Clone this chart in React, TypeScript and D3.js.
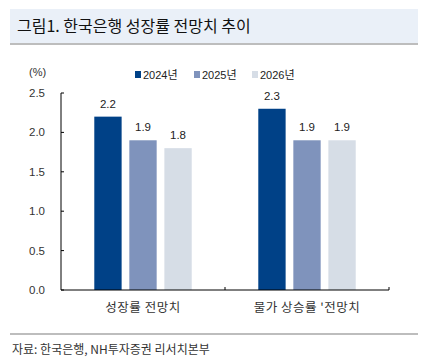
import React from 'react';
import * as d3 from 'd3';

// data
const categories = ['성장률 전망치', "물가 상승률 '전망치"];
const seriesNames = ['2024년', '2025년', '2026년'];
const values2024 = [2.2, 2.3];
const values2025 = [1.9, 1.9];
const values2026 = [1.8, 1.9];
const yTicks = [0, 0.5, 1.0, 1.5, 2.0, 2.5];
const colors = ['#004187', '#7F93BC', '#D6DDE6'];

const FONT = "'Liberation Sans', Arial, 'Noto Sans CJK KR', sans-serif";
const KFONT = "'Noto Sans CJK KR', 'Liberation Sans', sans-serif";

export default function App() {
  const width = 425, height = 363;
  const left = 61, right = 389, top = 93, bottom = 290;

  const series = [values2024, values2025, values2026];

  const y = d3.scaleLinear().domain([0, 2.5]).range([bottom, top]);
  const x0 = d3.scaleBand().domain(categories).range([left, right]);
  const x1 = d3.scaleBand().domain(seriesNames)
    .range([0, x0.bandwidth()]).paddingInner(0.22).paddingOuter(0.95);

  return (
    <svg width={width} height={height}
      style={{ position: 'absolute', left: 0, top: 0, background: '#fff' }}>
      {/* title band */}
      <rect x={10} y={9} width={408} height={34} fill="#EAF0F8" />
      <rect x={10} y={43} width={408} height={2} fill="#BDBDBD" />
      <text x={17} y={32} fontFamily={KFONT} fontSize={16} fill="#111">그림1. 한국은행 성장률 전망치 추이</text>

      {/* unit */}
      <text x={29} y={76} fontFamily={FONT} fontSize={11} fill="#333">(%)</text>

      {/* legend */}
      {seriesNames.map((s, i) => {
        const lx = [135, 194, 252][i];
        return (
          <g key={s}>
            <rect x={lx} y={71} width={6} height={7} fill={colors[i]} />
            <text x={lx + 8} y={79} fontFamily={FONT} fontSize={11} fill="#222">{s}</text>
          </g>
        );
      })}

      {/* y axis */}
      <line x1={left} x2={left} y1={top} y2={bottom} stroke="#000" />
      {yTicks.map(t => (
        <g key={t}>
          <line x1={left} x2={left + 3} y1={y(t)} y2={y(t)} stroke="#000" />
          <text x={45} y={y(t) + 4} textAnchor="end" fontFamily={FONT} fontSize={11.5} fill="#333">{t.toFixed(1)}</text>
        </g>
      ))}

      {/* bars */}
      {categories.map((c, ci) => (
        <g key={c} transform={`translate(${x0(c)},0)`}>
          {series.map((vals, si) => {
            const bx = x1(seriesNames[si])!;
            return (
              <g key={si}>
                <rect x={bx} y={y(vals[ci])} width={x1.bandwidth()} height={bottom - y(vals[ci])} fill={colors[si]} />
                <text x={bx + x1.bandwidth() / 2} y={y(vals[ci]) - 9} textAnchor="middle"
                  fontFamily={FONT} fontSize={11.5} fill="#222">{vals[ci].toFixed(1)}</text>
              </g>
            );
          })}
        </g>
      ))}

      {/* x axis */}
      <line x1={left} x2={right} y1={bottom} y2={bottom} stroke="#000" />
      {[x0(categories[1])!, right].map((tx, i) => (
        <line key={i} x1={tx} x2={tx} y1={bottom} y2={bottom - 3} stroke="#000" />
      ))}
      {categories.map(c => (
        <text key={c} x={x0(c)! + x0.bandwidth() / 2} y={312} textAnchor="middle"
          fontFamily={KFONT} fontSize={12.5} letterSpacing={0.5} fill="#333">{c}</text>
      ))}

      {/* footer */}
      <rect x={10} y={333} width={408} height={2} fill="#BDBDBD" />
      <text x={12} y={354} fontFamily={KFONT} fontSize={12} fill="#333">자료: 한국은행, NH투자증권 리서치본부</text>
    </svg>
  );
}
